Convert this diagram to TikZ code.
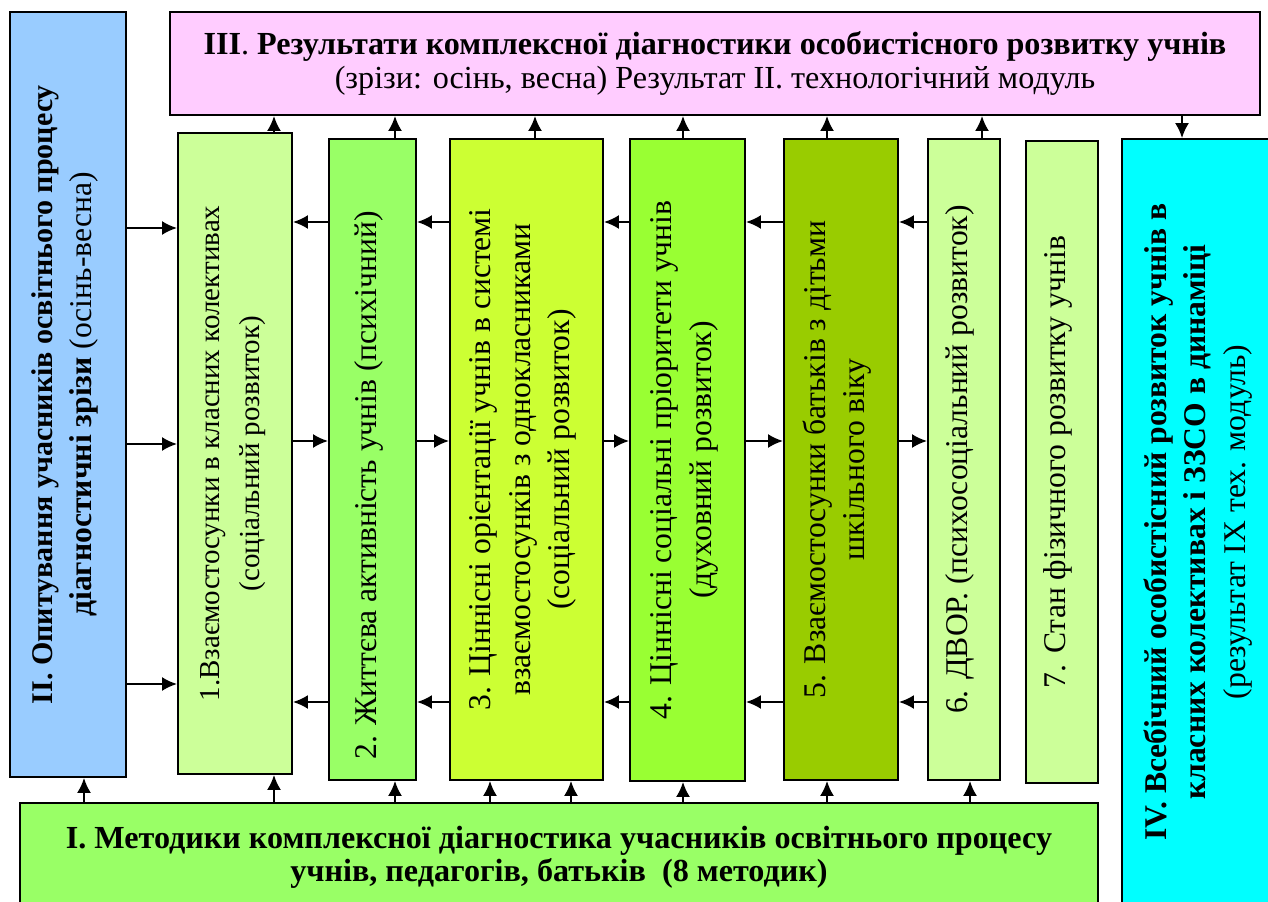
\documentclass[tikz,border=0pt]{standalone}
\usepackage{fontspec}
\setmainfont{Liberation Serif}
\usepackage{graphicx}
\usetikzlibrary{arrows.meta, positioning, calc}

\definecolor{surveyblue}{HTML}{99CCFF}
\definecolor{resultpink}{HTML}{FFCCFF}
\definecolor{palegreen}{HTML}{CCFF99}
\definecolor{lightgreen}{HTML}{99FF66}
\definecolor{limegreen}{HTML}{CCFF33}
\definecolor{brightgreen}{HTML}{99FF33}
\definecolor{olivegreen}{HTML}{99CC00}
\definecolor{dynamicscyan}{HTML}{00FFFF}

\begin{document}
\begin{tikzpicture}[
  x=0.02cm, y=-0.02cm,
  block/.style = {draw, line width=1.1pt, inner sep=0pt, align=center},
  vlabel/.style = {font=\fontsize{18pt}{22.5pt}\selectfont},
  hlabel/.style = {font=\fontsize{18.3pt}{19pt}\selectfont},
  arrow/.style = {line width=1.2pt, -{Latex[length=3mm, width=2.8mm]}}
]
  \path[use as bounding box, fill=white] (0,0) rectangle (1268,902);
  \clip (0,0) rectangle (1268,902);

  % III. results
  \node[block, hlabel, fill=resultpink, minimum width=21.8cm, minimum height=2.06cm] (results) at (715,63.5) {
    \textbf{III}. \textbf{Результати комплексної діагностики особистісного розвитку учнів}\\
    (зрізи: осінь, весна) Результат II. технологічний модуль
  };

  % II. survey
  \node[block, vlabel, fill=surveyblue, minimum width=2.32cm, minimum height=15.3cm] (survey) at (68,394.5) {
    \rotatebox{90}{\begin{tabular}{@{}c@{}}
      {\fontsize{17.1pt}{22.5pt}\selectfont\textbf{II. Опитування учасників освітнього процесу}}\\
      \textbf{діагностичні зрізи} (осінь-весна)
    \end{tabular}}
  };

  % diagnostic directions 1-7
  \node[block, font=\fontsize{16.5pt}{23pt}\selectfont, fill=palegreen, minimum width=2.28cm, minimum height=12.82cm] (relations) at (235,453.5) {
    \rotatebox{90}{\begin{tabular}{@{}c@{}}
      1.Взаємостосунки в класних колективах\\
      (соціальний розвиток)
    \end{tabular}}
  };
  \node[block, vlabel, fill=lightgreen, minimum width=1.74cm, minimum height=12.82cm] (activity) at (372.5,459.5) {
    \rotatebox{90}{2. Життєва активність учнів (психічний)\hspace*{1.04cm}}
  };
  \node[block, vlabel, fill=limegreen, minimum width=3.06cm, minimum height=12.82cm] (values) at (526.5,459.5) {
    \rotatebox{90}{\begin{tabular}{@{}c@{}}
      3. Ціннісні орієнтації учнів в системі\\
      взаємостосунків з однокласниками\\
      (соціальний розвиток)
    \end{tabular}}
  };
  \node[block, vlabel, fill=brightgreen, minimum width=2.3cm, minimum height=12.84cm] (priorities) at (687.5,460) {
    \rotatebox{90}{\begin{tabular}{@{}c@{}}
      4. Ціннісні соціальні пріоритети учнів\\
      (духовний розвиток)
    \end{tabular}}
  };
  \node[block, vlabel, fill=olivegreen, minimum width=2.28cm, minimum height=12.82cm] (parents) at (841,459.5) {
    \rotatebox{90}{\begin{tabular}{@{}c@{}}
      5. Взаємостосунки батьків з дітьми\\
      шкільного віку
    \end{tabular}}
  };
  \node[block, vlabel, fill=palegreen, minimum width=1.44cm, minimum height=12.82cm] (dvor) at (964,459.5) {
    \rotatebox{90}{6. ДВОР. (психосоціальний розвиток)}
  };
  \node[block, vlabel, fill=palegreen, minimum width=1.44cm, minimum height=12.84cm] (physical) at (1062,462) {
    \rotatebox{90}{7. Стан фізичного розвитку учнів}
  };

  % IV. overall development
  \node[block, vlabel, fill=dynamicscyan, minimum width=3.2cm, minimum height=15.32cm] (overall) at (1202,522) {
    \rotatebox{90}{\begin{tabular}{@{}c@{}}
      \textbf{IV. Всебічний особистісний розвиток учнів в}\\
      \textbf{класних колективах і ЗЗСО в динаміці}\\
      (результат IX тех. модуль)
    \end{tabular}}
  };

  % I. methods
  \node[block, hlabel, fill=lightgreen, minimum width=21.56cm, minimum height=2.18cm] (methods) at (559,857.5) {
    \textbf{I. Методики комплексної діагностика учасників освітнього процесу}\\
    \textbf{учнів, педагогів, батьків\ \ (8 методик)}
  };

  % levels and columns for connectors
  \coordinate (inA) at (0,228);
  \coordinate (inB) at (0,444);
  \coordinate (inC) at (0,684);
  \coordinate (rowtop) at (0,222);
  \coordinate (rowmid) at (0,441);
  \coordinate (rowlow) at (0,702);
  \coordinate (col0) at (84,0);
  \coordinate (col1) at (274,0);
  \coordinate (col2) at (395,0);
  \coordinate (col3) at (535,0);
  \coordinate (col3a) at (490,0);
  \coordinate (col3b) at (571,0);
  \coordinate (col4) at (683,0);
  \coordinate (col5) at (827,0);
  \coordinate (col6) at (982,0);
  \coordinate (col6b) at (970,0);
  \coordinate (colIV) at (1182,0);

  % survey -> relations
  \draw[arrow] (survey.east |- inA) -- (relations.west |- inA);
  \draw[arrow] (survey.east |- inB) -- (relations.west |- inB);
  \draw[arrow] (survey.east |- inC) -- (relations.west |- inC);

  % links between neighbouring directions
  \draw[arrow] (activity.west |- rowtop) -- (relations.east |- rowtop);
  \draw[arrow] (relations.east |- rowmid) -- (activity.west |- rowmid);
  \draw[arrow] (activity.west |- rowlow) -- (relations.east |- rowlow);
  \draw[arrow] (values.west |- rowtop) -- (activity.east |- rowtop);
  \draw[arrow] (activity.east |- rowmid) -- (values.west |- rowmid);
  \draw[arrow] (values.west |- rowlow) -- (activity.east |- rowlow);
  \draw[arrow] (priorities.west |- rowtop) -- (values.east |- rowtop);
  \draw[arrow] (values.east |- rowmid) -- (priorities.west |- rowmid);
  \draw[arrow] (priorities.west |- rowlow) -- (values.east |- rowlow);
  \draw[arrow] (parents.west |- rowtop) -- (priorities.east |- rowtop);
  \draw[arrow] (priorities.east |- rowmid) -- (parents.west |- rowmid);
  \draw[arrow] (parents.west |- rowlow) -- (priorities.east |- rowlow);
  \draw[arrow] (dvor.west |- rowtop) -- (parents.east |- rowtop);
  \draw[arrow] (parents.east |- rowmid) -- (dvor.west |- rowmid);
  \draw[arrow] (dvor.west |- rowlow) -- (parents.east |- rowlow);

  % directions -> results
  \draw[arrow] (col1 |- relations.north) -- (col1 |- results.south);
  \draw[arrow] (col2 |- activity.north) -- (col2 |- results.south);
  \draw[arrow] (col3 |- values.north) -- (col3 |- results.south);
  \draw[arrow] (col4 |- priorities.north) -- (col4 |- results.south);
  \draw[arrow] (col5 |- parents.north) -- (col5 |- results.south);
  \draw[arrow] (col6 |- dvor.north) -- (col6 |- results.south);
  \draw[arrow] (colIV |- results.south) -- (colIV |- overall.north);

  % methods -> survey and directions
  \draw[arrow] (col0 |- methods.north) -- (col0 |- survey.south);
  \draw[arrow] (col1 |- methods.north) -- (col1 |- relations.south);
  \draw[arrow] (col2 |- methods.north) -- (col2 |- activity.south);
  \draw[arrow] (col3a |- methods.north) -- (col3a |- values.south);
  \draw[arrow] (col3b |- methods.north) -- (col3b |- values.south);
  \draw[arrow] (col4 |- methods.north) -- (col4 |- priorities.south);
  \draw[arrow] (col5 |- methods.north) -- (col5 |- parents.south);
  \draw[arrow] (col6b |- methods.north) -- (col6b |- dvor.south);

\end{tikzpicture}
\end{document}
